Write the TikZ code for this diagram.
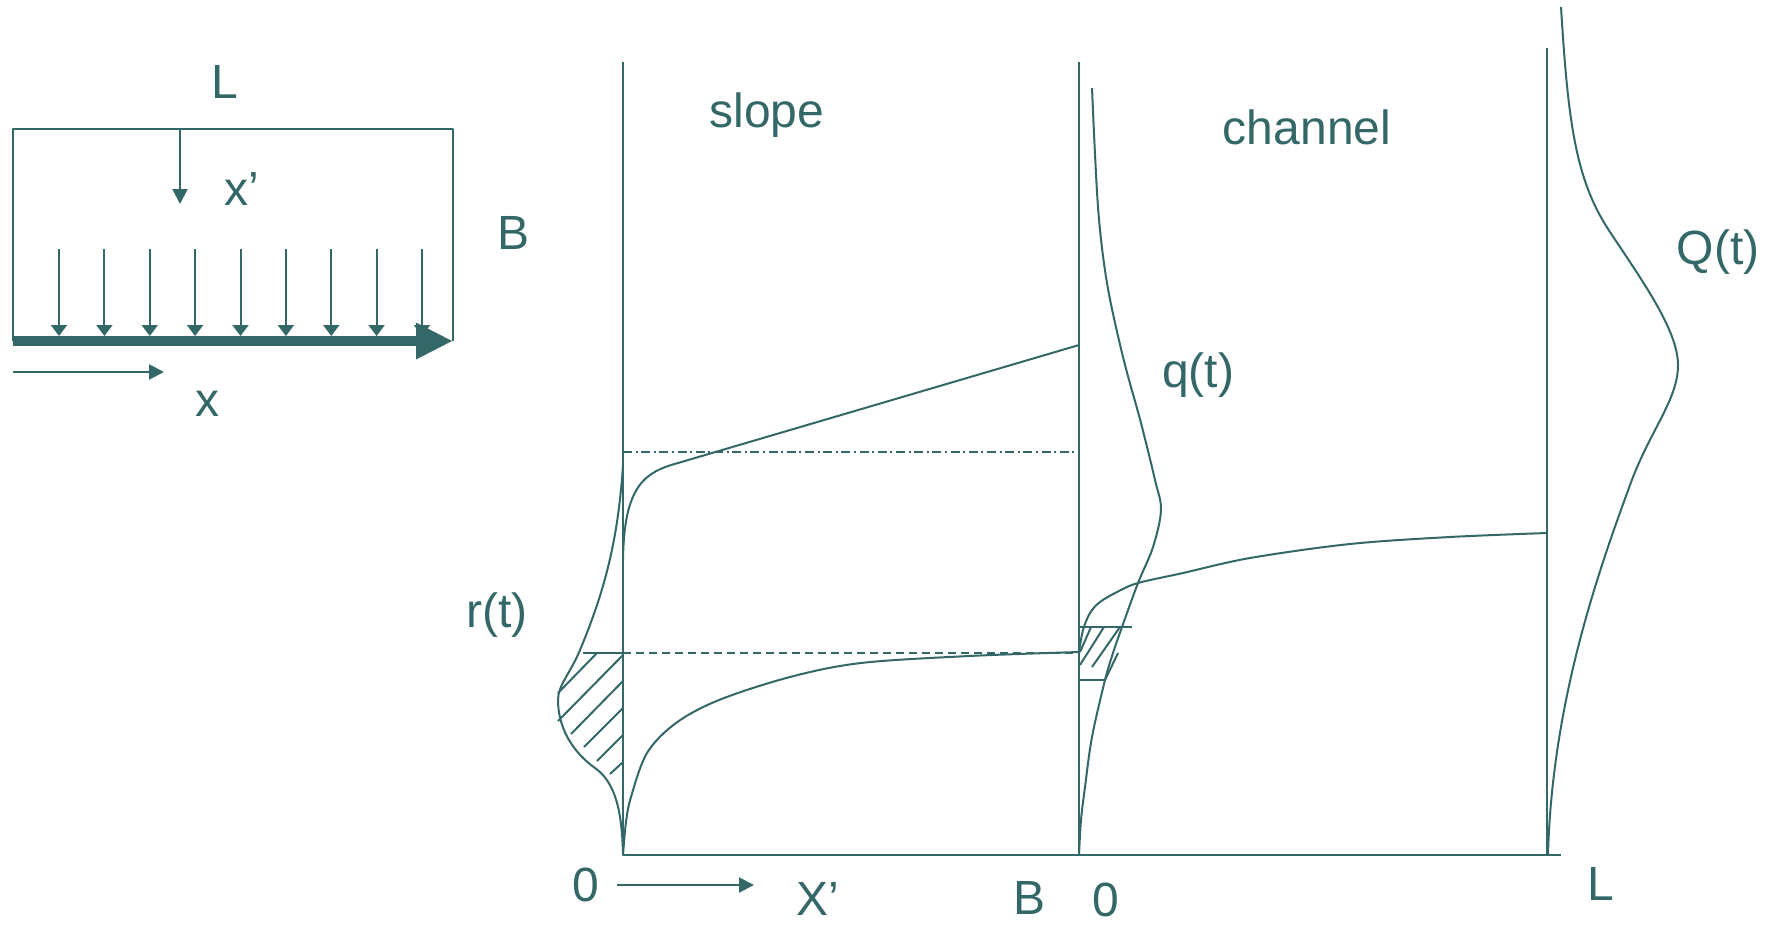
\documentclass[tikz,border=0pt]{standalone}
\usepackage{fontspec}
\setmainfont{Liberation Sans}
\usetikzlibrary{arrows.meta}
\definecolor{ink}{RGB}{52,104,104}
\begin{document}
\begin{tikzpicture}[x=0.5pt,y=-0.5pt,
  thinline/.style={draw=ink,line width=1pt,line join=round},
  lbl/.style={text=ink,inner sep=0pt,font=\fontsize{24}{28}\selectfont},
  droparrow/.style={thinline,-{Triangle[length=5.5pt,width=8pt]}},
  midarrow/.style={thinline,-{Triangle[length=7.5pt,width=7.5pt]}},
  bigarrow/.style={draw=ink,line width=5pt,-{Triangle[length=18.5pt,width=17pt]}},
  dashline/.style={thinline,dash pattern=on 4pt off 2.5pt},
  dashdotline/.style={thinline,dash pattern=on 4.5pt off 1.8pt on 1pt off 1.8pt},
  curve/.style={thinline,smooth,tension=0.55}]
\useasboundingbox (0,0) rectangle (1767,928);

% ---------- left plan view ----------
\coordinate (bl) at (13,341);
\coordinate (tl) at (13,129);
\coordinate (tr) at (453,129);
\coordinate (br) at (453,341);
\draw[thinline] (bl) -- (tl) -- (tr) -- (br);
\draw[bigarrow] (bl) -- (br);
\coordinate (xps) at (180,129);
\coordinate (xpe) at (180,204);
\draw[midarrow] (xps) -- (xpe);
\foreach \x [count=\k] in {59,104.4,149.8,195.1,240.5,285.9,331.3,376.6,422}{
  \coordinate (rs\k) at (\x,249);
  \coordinate (re\k) at (\x,336);
  \draw[droparrow] (rs\k) -- (re\k);
}
\coordinate (xs) at (13,372);
\coordinate (xe) at (164,372);
\draw[midarrow] (xs) -- (xe);
\node[lbl] (Ltop) at (225,82) {L};
\node[lbl] (xplbl) at (242,189) {x’};
\node[lbl] (Bside) at (514,233) {B};
\node[lbl] (xlbl) at (207,404) {x};

% ---------- axes ----------
\coordinate (O1) at (623,855);
\coordinate (T1) at (623,62);
\coordinate (O2) at (1079,855);
\coordinate (T2) at (1079,62);
\coordinate (O3) at (1547,855);
\coordinate (T3) at (1547,48);
\coordinate (Bend) at (1561,855);
\draw[thinline] (T1) -- (O1) -- (Bend);
\draw[thinline] (T2) -- (O2);
\draw[thinline] (T3) -- (O3);

% horizontal reference lines
\coordinate (ddl) at (623,452);
\coordinate (ddr) at (1079,452);
\draw[dashdotline] (ddl) -- (ddr);
\coordinate (dsl) at (583,653);
\coordinate (dsm) at (623,653);
\coordinate (dsr) at (1079,653);
\draw[thinline] (dsl) -- (dsm);
\draw[dashline] (dsm) -- (dsr);

% ---------- slope curves ----------
\coordinate (u0) at (623,560);
\coordinate (u1) at (678,463);
\coordinate (u2) at (1079,345);
\draw[thinline] (u0) .. controls (624,485) and (645,472) .. (u1) -- (u2);
\draw[curve] plot coordinates {(623,855) (626,822) (631,797) (647,753) (676,723) (719,700) (790,677) (861,663) (969,656) (1079,652)};

% r(t) hydrograph
\draw[thinline] (623,465) .. controls (618,540) and (605,590) .. (580,650)
  .. controls (570,674) and (558,685) .. (558,700)
  .. controls (558,725) and (570,750) .. (595,768)
  .. controls (615,782) and (622,810) .. (623,855);
\draw[thinline] (597,653) -- (558,693);
\draw[thinline] (623,655) -- (558,721);
\draw[thinline] (623,681) -- (571,734);
\draw[thinline] (623,708) -- (584,747);
\draw[thinline] (623,735) -- (597,761);
\draw[thinline] (623,762) -- (610,774);

% ---------- channel curves ----------
\draw[curve] plot coordinates {(1092,88) (1098,207) (1107,283) (1123,357) (1141,423) (1155,480) (1161,510) (1153,547) (1138,583) (1122,627) (1113,653) (1105,680) (1092,737) (1085,787) (1081,820) (1079,855)};
\draw[curve] plot coordinates {(1079,652) (1083,630) (1090,613) (1100,602) (1117,592) (1138,583) (1183,573) (1250,558) (1350,544) (1450,537) (1547,533)};
\draw[thinline] (1079,627) -- (1132,627);
\draw[thinline] (1079,680) -- (1105,680);
\draw[thinline] (1091,627) -- (1080,652);
\draw[thinline] (1104,627) -- (1080,665);
\draw[thinline] (1120,627) -- (1092,667);
\draw[thinline] (1118,653) -- (1105,680);

% Q(t) hydrograph
\draw[thinline] (1561,7) .. controls (1568,120) and (1575,180) .. (1610,232)
  .. controls (1641,279) and (1678,330) .. (1678,365)
  .. controls (1678,400) and (1650,430) .. (1630,485)
  .. controls (1600,567) and (1552,700) .. (1548,855);

% ---------- labels ----------
\node[lbl] (slopelbl) at (767,115) {slope};
\node[lbl] (chanlbl) at (1307,127) {channel};
\node[lbl] (qlbl) at (1198,375) {q(t)};
\node[lbl] (Qlbl) at (1718,252) {Q(t)};
\node[lbl] (rlbl) at (497,615) {r(t)};
\node[lbl] (zeroA) at (586,885) {0};
\coordinate (as) at (617,885);
\coordinate (ae) at (754,885);
\draw[midarrow] (as) -- (ae);
\node[lbl] (Xplbl) at (818,899) {X’};
\node[lbl] (Bbot) at (1029,898) {B};
\node[lbl] (zeroB) at (1106,900) {0};
\node[lbl] (Lbot) at (1601,884) {L};
\end{tikzpicture}
\end{document}
